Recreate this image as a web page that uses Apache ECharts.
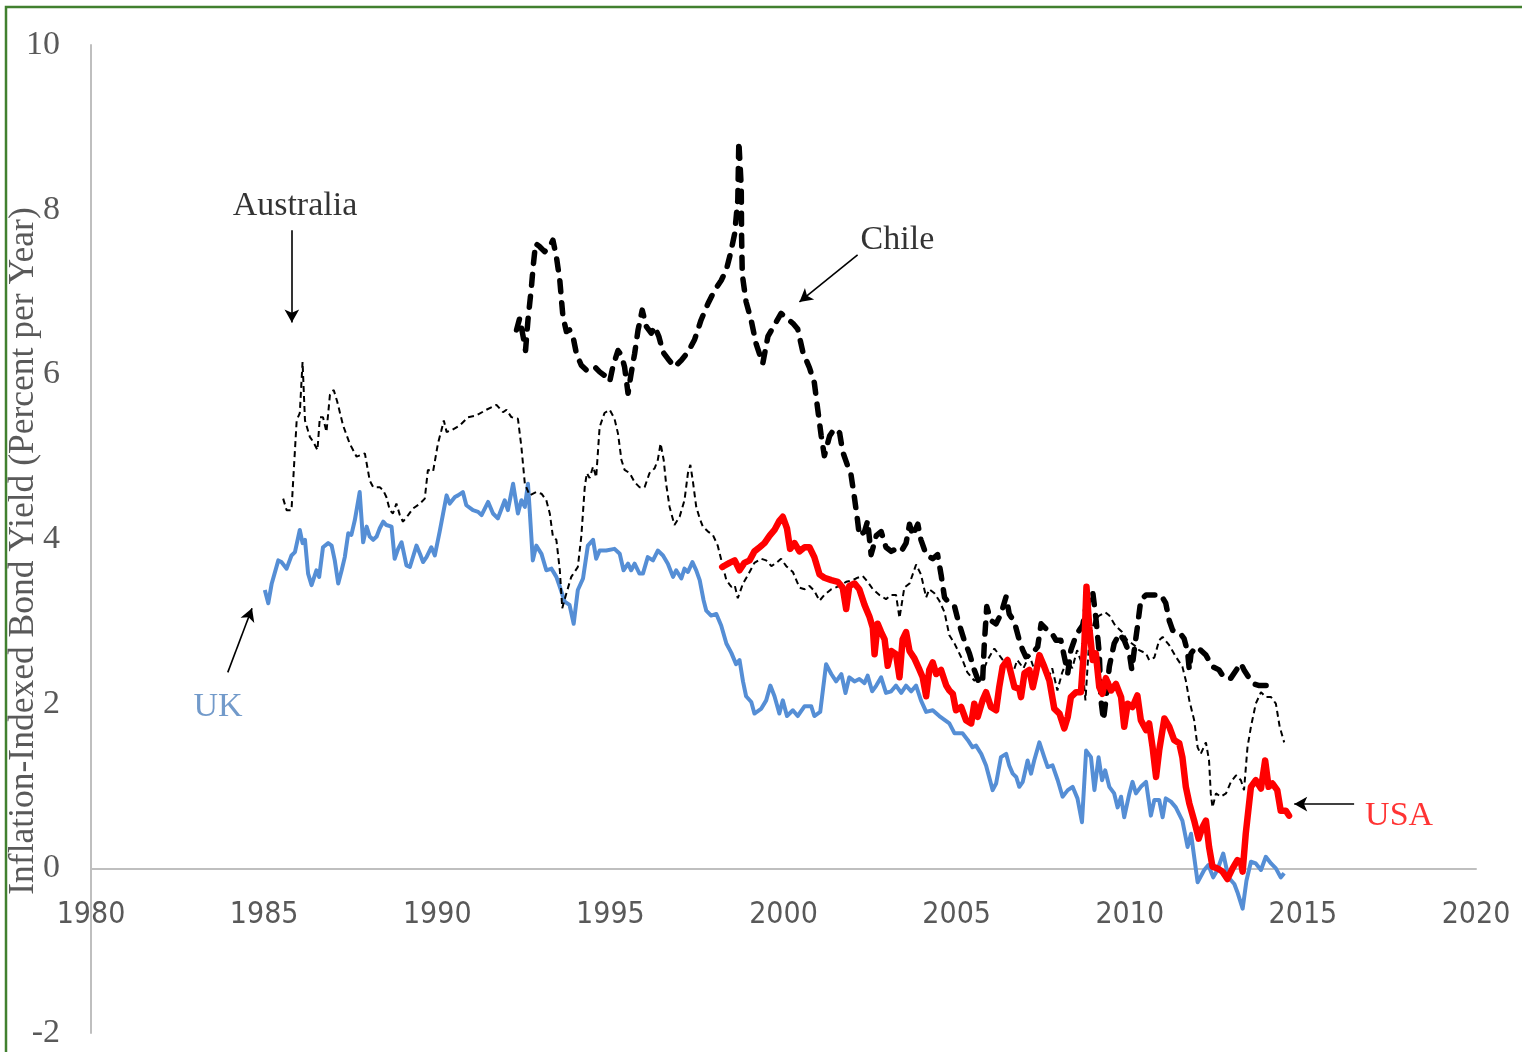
<!DOCTYPE html>
<html>
<head>
<meta charset="utf-8">
<script src="https://cdn.jsdelivr.net/npm/echarts@6/dist/echarts.min.js"></script>
<style>
html,body{margin:0;padding:0;background:#fff;}
#chart{width:1522px;height:1052px;}
</style>
</head>
<body>
<div id="chart"></div>
<script>
// ---------- DATA (decimal years, percent per year) ----------
const ukDates = [1985.02,1985.12,1985.22,1985.41,1985.50,1985.65,1985.79,1985.89,1986.03,1986.11,1986.18,1986.27,1986.37,1986.51,1986.59,1986.70,1986.85,1986.95,1987.04,1987.14,1987.24,1987.33,1987.43,1987.52,1987.62,1987.76,1987.86,1987.96,1988.05,1988.15,1988.25,1988.34,1988.44,1988.53,1988.68,1988.77,1988.87,1988.97,1989.11,1989.21,1989.40,1989.50,1989.59,1989.69,1989.83,1989.93,1990.07,1990.17,1990.27,1990.36,1990.51,1990.60,1990.74,1990.84,1991.03,1991.18,1991.28,1991.47,1991.61,1991.75,1991.95,1992.04,1992.19,1992.33,1992.43,1992.53,1992.62,1992.67,1992.76,1992.86,1993.01,1993.15,1993.30,1993.44,1993.54,1993.68,1993.82,1993.94,1994.06,1994.21,1994.35,1994.50,1994.59,1994.69,1994.88,1995.12,1995.27,1995.38,1995.51,1995.60,1995.70,1995.84,1995.94,1996.08,1996.23,1996.37,1996.52,1996.66,1996.81,1996.90,1997.05,1997.14,1997.24,1997.37,1997.48,1997.58,1997.69,1997.77,1997.91,1998.06,1998.20,1998.35,1998.49,1998.63,1998.73,1998.83,1998.92,1999.07,1999.16,1999.36,1999.50,1999.62,1999.74,1999.88,1999.98,2000.10,2000.27,2000.41,2000.61,2000.80,2000.89,2001.06,2001.23,2001.38,2001.52,2001.67,2001.79,2001.90,2002.05,2002.19,2002.34,2002.43,2002.56,2002.68,2002.82,2002.96,2003.11,2003.25,2003.40,2003.54,2003.69,2003.83,2003.97,2004.12,2004.31,2004.50,2004.79,2004.94,2005.17,2005.32,2005.46,2005.56,2005.71,2005.85,2006.04,2006.14,2006.28,2006.43,2006.52,2006.62,2006.72,2006.81,2006.91,2007.05,2007.15,2007.24,2007.39,2007.53,2007.63,2007.77,2007.92,2008.06,2008.21,2008.35,2008.49,2008.62,2008.74,2008.88,2008.98,2009.10,2009.20,2009.29,2009.41,2009.55,2009.65,2009.75,2009.84,2009.99,2010.08,2010.18,2010.32,2010.47,2010.61,2010.71,2010.85,2010.95,2011.04,2011.19,2011.33,2011.52,2011.67,2011.77,2011.96,2012.15,2012.27,2012.41,2012.53,2012.70,2012.85,2013.02,2013.11,2013.26,2013.37,2013.50,2013.64,2013.79,2013.93,2014.08,2014.22,2014.36,2014.46];
const ukValues = [3.38,3.22,3.46,3.74,3.72,3.64,3.80,3.84,4.11,3.95,3.99,3.58,3.44,3.62,3.54,3.90,3.95,3.92,3.74,3.46,3.62,3.78,4.07,4.05,4.23,4.57,3.96,4.15,4.03,3.99,4.03,4.13,4.21,4.17,4.15,3.76,3.88,3.96,3.68,3.66,3.92,3.82,3.72,3.78,3.90,3.80,4.09,4.31,4.53,4.43,4.51,4.53,4.57,4.41,4.35,4.33,4.29,4.45,4.31,4.25,4.47,4.35,4.67,4.31,4.47,4.39,4.67,4.35,3.74,3.92,3.82,3.62,3.64,3.54,3.42,3.24,3.20,2.97,3.38,3.52,3.92,3.99,3.76,3.86,3.86,3.88,3.82,3.62,3.70,3.62,3.70,3.58,3.58,3.78,3.74,3.86,3.80,3.70,3.54,3.62,3.52,3.64,3.60,3.72,3.62,3.50,3.26,3.13,3.07,3.09,2.95,2.73,2.62,2.48,2.53,2.27,2.09,2.02,1.88,1.94,2.04,2.22,2.09,1.88,2.04,1.85,1.92,1.85,1.97,1.97,1.85,1.90,2.48,2.36,2.27,2.36,2.13,2.32,2.27,2.30,2.25,2.34,2.15,2.22,2.32,2.13,2.15,2.22,2.13,2.22,2.15,2.22,2.04,1.90,1.92,1.85,1.76,1.64,1.64,1.56,1.47,1.49,1.39,1.25,0.95,1.03,1.35,1.39,1.25,1.15,1.11,0.99,1.05,1.31,1.15,1.31,1.53,1.35,1.23,1.25,1.07,0.87,0.95,0.99,0.85,0.56,1.43,1.35,0.95,1.35,1.07,1.19,0.99,0.91,0.74,0.87,0.62,0.91,1.05,0.91,0.99,1.05,0.64,0.83,0.83,0.62,0.85,0.81,0.74,0.58,0.26,0.42,-0.17,-0.02,0.04,-0.11,-0.02,0.18,-0.11,-0.19,-0.29,-0.49,-0.15,0.08,0.06,-0.02,0.14,0.06,0.00,-0.11,-0.06];

const ausDates = [1985.55,1985.65,1985.79,1985.94,1986.03,1986.11,1986.18,1986.32,1986.42,1986.54,1986.61,1986.70,1986.80,1986.90,1987.01,1987.11,1987.28,1987.47,1987.67,1987.91,1988.05,1988.15,1988.34,1988.44,1988.53,1988.63,1988.72,1988.82,1988.92,1989.01,1989.16,1989.30,1989.50,1989.64,1989.73,1989.88,1990.02,1990.12,1990.19,1990.27,1990.41,1990.65,1990.89,1991.13,1991.42,1991.71,1991.90,1992.00,1992.14,1992.33,1992.43,1992.53,1992.67,1992.86,1993.01,1993.15,1993.25,1993.34,1993.44,1993.54,1993.61,1993.73,1993.87,1994.06,1994.16,1994.26,1994.32,1994.40,1994.50,1994.59,1994.69,1994.83,1994.98,1995.12,1995.22,1995.32,1995.41,1995.56,1995.70,1995.84,1995.99,1996.13,1996.28,1996.37,1996.45,1996.54,1996.61,1996.71,1996.85,1997.00,1997.14,1997.24,1997.31,1997.38,1997.48,1997.58,1997.67,1997.82,1997.96,1998.10,1998.23,1998.35,1998.49,1998.59,1998.68,1998.83,1998.97,1999.16,1999.36,1999.50,1999.65,1999.79,1999.93,2000.08,2000.27,2000.46,2000.61,2000.75,2000.89,2001.04,2001.18,2001.38,2001.62,2001.81,2002.00,2002.14,2002.29,2002.43,2002.58,2002.77,2002.96,2003.11,2003.25,2003.35,2003.49,2003.64,2003.83,2003.97,2004.12,2004.21,2004.36,2004.50,2004.65,2004.79,2004.94,2005.17,2005.31,2005.51,2005.71,2005.89,2006.09,2006.23,2006.44,2006.61,2006.75,2006.93,2007.10,2007.27,2007.45,2007.62,2007.76,2007.91,2008.05,2008.20,2008.34,2008.48,2008.63,2008.72,2008.83,2008.98,2009.12,2009.29,2009.41,2009.58,2009.78,2009.93,2010.13,2010.27,2010.47,2010.56,2010.71,2010.85,2010.95,2011.14,2011.33,2011.52,2011.62,2011.72,2011.86,2011.96,2012.05,2012.20,2012.29,2012.34,2012.39,2012.49,2012.63,2012.78,2012.92,2013.07,2013.21,2013.30,2013.40,2013.50,2013.64,2013.79,2013.93,2014.08,2014.22,2014.33,2014.46];
const ausValues = [4.49,4.35,4.35,5.44,5.53,6.15,5.44,5.24,5.18,5.08,5.48,5.48,5.30,5.75,5.81,5.67,5.38,5.16,5.00,5.04,4.71,4.63,4.63,4.59,4.51,4.35,4.31,4.43,4.29,4.21,4.29,4.37,4.43,4.49,4.84,4.82,5.16,5.32,5.44,5.30,5.32,5.38,5.48,5.50,5.57,5.63,5.54,5.57,5.48,5.46,5.12,4.67,4.53,4.57,4.55,4.47,4.31,4.03,3.99,3.62,3.16,3.34,3.54,3.66,4.03,4.63,4.80,4.74,4.88,4.75,5.36,5.53,5.57,5.46,5.28,4.96,4.84,4.80,4.69,4.63,4.63,4.80,4.86,4.96,5.16,4.96,4.67,4.39,4.17,4.27,4.47,4.80,4.90,4.71,4.39,4.25,4.15,4.09,4.05,3.92,3.70,3.50,3.42,3.44,3.28,3.46,3.56,3.71,3.76,3.74,3.67,3.71,3.76,3.67,3.60,3.41,3.39,3.43,3.37,3.25,3.32,3.39,3.43,3.48,3.50,3.53,3.55,3.48,3.39,3.32,3.27,3.32,3.32,3.04,3.41,3.46,3.69,3.57,3.29,3.39,3.34,3.25,3.11,2.83,2.73,2.53,2.38,2.28,2.33,2.53,2.67,2.59,2.47,2.35,2.53,2.43,2.59,2.38,2.53,2.28,2.43,2.16,2.38,2.53,2.43,2.65,2.47,2.04,2.77,3.01,3.07,3.11,3.07,2.95,2.87,2.77,2.71,2.65,2.61,2.53,2.56,2.77,2.81,2.71,2.57,2.45,2.28,2.04,1.80,1.47,1.39,1.53,1.31,0.91,0.74,0.91,0.87,0.91,1.05,1.13,1.07,0.95,1.47,1.72,2.00,2.14,2.08,2.08,2.00,1.72,1.53];

const chileDates = [1992.29,1992.38,1992.48,1992.55,1992.62,1992.72,1992.77,1992.84,1992.96,1993.10,1993.25,1993.34,1993.44,1993.54,1993.63,1993.73,1993.82,1993.92,1994.02,1994.16,1994.31,1994.55,1994.69,1994.88,1994.98,1995.07,1995.22,1995.32,1995.41,1995.51,1995.60,1995.70,1995.80,1995.92,1996.04,1996.18,1996.28,1996.40,1996.52,1996.66,1996.85,1997.05,1997.24,1997.43,1997.62,1997.82,1998.01,1998.20,1998.35,1998.47,1998.59,1998.68,1998.71,1998.78,1998.79,1998.81,1998.92,1999.07,1999.21,1999.40,1999.55,1999.74,1999.93,2000.12,2000.27,2000.41,2000.56,2000.75,2000.89,2000.99,2001.09,2001.18,2001.33,2001.47,2001.62,2001.71,2001.86,2001.95,2002.05,2002.14,2002.19,2002.34,2002.43,2002.53,2002.68,2002.82,2002.96,2003.11,2003.25,2003.40,2003.54,2003.64,2003.73,2003.88,2003.97,2004.12,2004.31,2004.45,2004.55,2004.65,2004.79,2004.94,2005.03,2005.13,2005.22,2005.37,2005.51,2005.66,2005.75,2005.80,2005.87,2005.99,2006.14,2006.28,2006.43,2006.52,2006.67,2006.81,2006.91,2007.00,2007.15,2007.34,2007.44,2007.58,2007.73,2007.87,2008.01,2008.11,2008.21,2008.30,2008.45,2008.54,2008.64,2008.74,2008.93,2009.02,2009.12,2009.17,2009.24,2009.31,2009.41,2009.55,2009.70,2009.84,2009.99,2010.06,2010.13,2010.22,2010.32,2010.47,2010.66,2010.90,2011.04,2011.14,2011.24,2011.43,2011.57,2011.67,2011.72,2011.77,2011.91,2012.05,2012.20,2012.39,2012.58,2012.73,2012.92,2013.11,2013.21,2013.30,2013.45,2013.59,2013.74,2013.93,2014.08];
const chileValues = [6.54,6.68,6.46,6.29,6.66,7.06,7.31,7.59,7.55,7.49,7.55,7.63,7.43,7.14,6.70,6.52,6.54,6.46,6.25,6.11,6.05,6.09,6.03,5.97,5.91,6.09,6.29,6.23,6.09,5.77,6.01,6.25,6.54,6.78,6.58,6.50,6.58,6.46,6.27,6.19,6.09,6.17,6.27,6.42,6.66,6.86,7.02,7.14,7.27,7.47,7.71,8.12,8.83,8.27,7.67,7.21,6.88,6.65,6.37,6.13,6.46,6.60,6.74,6.67,6.62,6.55,6.27,6.08,5.90,5.57,5.25,5.01,5.25,5.34,5.29,5.06,4.88,4.78,4.50,4.22,4.04,4.09,4.22,3.81,4.04,4.09,3.90,3.85,3.88,3.85,3.95,4.18,4.04,4.18,3.99,3.81,3.76,3.81,3.57,3.29,3.22,3.18,3.03,2.89,2.77,2.61,2.41,2.24,2.28,2.73,3.18,3.01,2.97,3.09,3.30,3.09,2.99,2.77,2.65,2.57,2.59,2.69,2.97,2.91,2.87,2.77,2.77,2.57,2.37,2.65,2.83,2.89,2.95,3.18,3.36,3.05,2.61,2.04,1.80,2.04,2.45,2.73,2.85,2.77,2.61,2.41,2.65,2.93,3.26,3.32,3.32,3.32,3.22,3.01,2.89,2.87,2.79,2.63,2.41,2.61,2.69,2.65,2.59,2.45,2.41,2.31,2.31,2.43,2.49,2.41,2.31,2.24,2.22,2.22,2.22];

const usaDates = [1998.23,1998.44,1998.59,1998.73,1998.87,1999.02,1999.16,1999.31,1999.45,1999.60,1999.74,1999.88,1999.98,2000.10,2000.19,2000.32,2000.46,2000.61,2000.75,2000.89,2001.04,2001.18,2001.38,2001.57,2001.71,2001.81,2001.90,2002.05,2002.19,2002.34,2002.48,2002.58,2002.63,2002.72,2002.82,2002.92,2003.01,2003.11,2003.25,2003.35,2003.44,2003.54,2003.64,2003.78,2003.93,2004.02,2004.12,2004.21,2004.31,2004.41,2004.55,2004.70,2004.79,2004.89,2004.98,2005.13,2005.27,2005.42,2005.51,2005.61,2005.75,2005.85,2005.99,2006.14,2006.23,2006.33,2006.47,2006.57,2006.67,2006.81,2006.86,2006.96,2007.10,2007.20,2007.29,2007.39,2007.53,2007.68,2007.82,2007.97,2008.11,2008.21,2008.30,2008.45,2008.59,2008.69,2008.75,2008.83,2008.93,2009.02,2009.12,2009.21,2009.31,2009.46,2009.60,2009.75,2009.84,2009.94,2010.08,2010.22,2010.32,2010.47,2010.56,2010.66,2010.76,2010.85,2011.00,2011.14,2011.28,2011.43,2011.52,2011.62,2011.72,2011.86,2011.99,2012.10,2012.20,2012.29,2012.39,2012.53,2012.68,2012.82,2012.97,2013.11,2013.21,2013.26,2013.35,2013.50,2013.64,2013.79,2013.91,2014.01,2014.12,2014.26,2014.36,2014.51,2014.60];
const usaValues = [3.66,3.71,3.74,3.62,3.71,3.74,3.85,3.90,3.95,4.04,4.11,4.22,4.27,4.13,3.88,3.95,3.85,3.90,3.90,3.78,3.57,3.53,3.50,3.48,3.41,3.15,3.43,3.46,3.39,3.20,3.06,2.92,2.60,2.97,2.87,2.78,2.46,2.64,2.60,2.32,2.78,2.87,2.64,2.55,2.41,2.32,2.09,2.41,2.50,2.36,2.41,2.22,2.16,2.12,1.92,1.96,1.80,1.76,2.00,1.84,2.04,2.14,1.96,1.92,2.20,2.45,2.53,2.37,2.20,2.18,2.08,2.37,2.41,2.20,2.37,2.59,2.45,2.28,1.94,1.88,1.70,1.84,2.08,2.14,2.14,2.73,3.42,2.93,2.53,2.61,2.20,2.12,2.31,2.16,2.24,2.08,1.72,2.00,1.96,2.10,1.80,1.68,1.76,1.47,1.11,1.43,1.82,1.72,1.56,1.52,1.35,0.99,0.79,0.58,0.36,0.50,0.58,0.26,0.02,0.00,-0.04,-0.13,0.00,0.10,0.08,-0.04,0.42,0.99,1.07,0.97,1.31,0.99,1.03,0.95,0.70,0.70,0.64];

// Axis ticks
const xTicks = [1980, 1985, 1990, 1995, 2000, 2005, 2010, 2015, 2020];
const yTicks = [-2, 0, 2, 4, 6, 8, 10];

// Annotations
const annoTexts = ['Australia', 'Chile', 'UK', 'USA'];
const annoTextPos = [[1985.89, 8.04], [2003.29, 7.63], [1983.67, 1.96], [2017.78, 0.64]];
const annoArrowFrom = [[1985.80, 7.75], [2002.14, 7.45], [1983.95, 2.38], [2016.48, 0.78]];
const annoArrowTo = [[1985.80, 6.63], [2000.46, 6.88], [1984.65, 3.16], [2014.75, 0.78]];
const annoColors = ['#000000', '#000000', '#4F81BD', '#FF0000'];

// ---------- CHART ----------
const zip = (a, b) => a.map((d, i) => [d, b[i]]);
const serif = "'Liberation Serif', 'Times New Roman', serif";
const narrow = "'Liberation Sans Narrow', 'DejaVu Sans Condensed', 'Liberation Sans', sans-serif";

const chart = echarts.init(document.getElementById('chart'), null, {renderer: 'canvas'});
const option = {
  animation: false,
  backgroundColor: '#ffffff',
  grid: {left: 91, right: 46, top: 45, bottom: 19, containLabel: false, outerBoundsMode: 'none'},
  xAxis: {
    type: 'value',
    min: xTicks[0], max: xTicks[xTicks.length - 1], interval: 5,
    axisLine: {show: true, onZero: true, lineStyle: {color: '#BFBFBF', width: 2}},
    axisTick: {show: false},
    splitLine: {show: false},
    // labels sit just under the zero line, as in the original
    axisLabel: {color: '#595959', fontFamily: narrow, fontSize: 30, margin: -133,
      formatter: v => String(v)}
  },
  yAxis: {
    type: 'value',
    min: yTicks[0], max: yTicks[yTicks.length - 1], interval: 2,
    name: 'Inflation-Indexed Bond Yield (Percent per Year)',
    nameLocation: 'middle', nameGap: 49, nameRotate: 90, nameMoveOverlap: false,
    nameTextStyle: {color: '#595959', fontFamily: serif, fontSize: 35.5, padding: [0, 24, 0, 0]},
    axisLine: {show: true, onZero: false, lineStyle: {color: '#BFBFBF', width: 2}},
    axisTick: {show: false},
    splitLine: {show: false},
    axisLabel: {color: '#595959', fontFamily: serif, fontSize: 34, margin: 31}
  },
  graphic: [{
    type: 'rect', silent: true,
    shape: {x: 6, y: 7, width: 3000, height: 3000},
    style: {fill: 'none', stroke: '#41802F', lineWidth: 2.5}
  }],
  series: [
    {name: 'UK', type: 'line', data: zip(ukDates, ukValues), showSymbol: false, symbol: 'none',
      lineStyle: {color: '#558ED5', width: 4, join: 'round'}, z: 2},
    {name: 'Australia', type: 'line', data: zip(ausDates, ausValues), showSymbol: false, symbol: 'none',
      lineStyle: {color: '#000000', width: 2, type: [6, 4]}, z: 3},
    {name: 'Chile', type: 'line', data: zip(chileDates, chileValues), showSymbol: false, symbol: 'none',
      lineStyle: {color: '#000000', width: 5.5, type: [11, 11], cap: 'round', join: 'round'}, z: 4},
    {name: 'USA', type: 'line', data: zip(usaDates, usaValues), showSymbol: false, symbol: 'none',
      lineStyle: {color: '#FF0000', width: 6.5, join: 'round', cap: 'round'}, z: 5},
    {name: 'annotations', type: 'scatter', symbolSize: 0, silent: true, z: 6,
      data: annoTexts.map((t, i) => ({
        value: annoTextPos[i], name: t,
        label: {show: true, position: 'inside', formatter: t, color: annoColors[i],
          fontFamily: serif, fontSize: 34}
      })),
      markLine: {
        silent: true, animation: false,
        symbol: ['none', 'arrow'], symbolSize: [11, 13],
        lineStyle: {color: '#000000', width: 1.6, type: 'solid'},
        label: {show: false},
        data: annoArrowFrom.map((f, i) => [{coord: f}, {coord: annoArrowTo[i]}])
      }
    }
  ]
};
chart.setOption(option);
</script>
</body>
</html>
